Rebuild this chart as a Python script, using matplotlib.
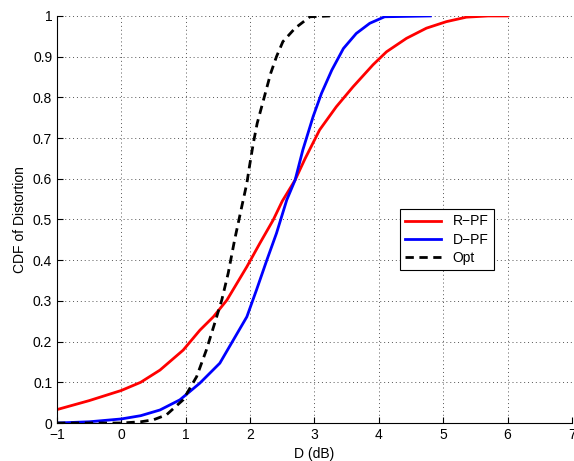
import numpy as np
import matplotlib
matplotlib.use('Agg')
import matplotlib.pyplot as plt

plt.rcParams['font.family'] = ['Liberation Sans', 'DejaVu Sans']

# R-PF curve
rpf_x = [-1.0, -0.5, 0.0, 0.3, 0.6, 0.96, 1.22, 1.43, 1.64, 1.95, 2.15, 2.36, 2.5, 2.7,
         2.85, 3.08, 3.34, 3.6, 3.91, 4.12, 4.43, 4.74, 5.05, 5.36, 5.7, 6.0]
rpf_y = [0.033, 0.055, 0.08, 0.1, 0.13, 0.179, 0.228, 0.261, 0.302, 0.384, 0.441, 0.499, 0.545, 0.597,
         0.648, 0.72, 0.777, 0.826, 0.88, 0.912, 0.945, 0.97, 0.986, 0.997, 1.0, 1.0]

# D-PF curve
dpf_x = [-1.0, -0.5, 0.0, 0.3, 0.6, 0.91, 1.22, 1.53, 1.74, 1.95, 2.1, 2.26, 2.41, 2.57, 2.7,
         2.82, 2.98, 3.11, 3.27, 3.45, 3.65, 3.86, 4.09, 4.8]
dpf_y = [0.0, 0.003, 0.01, 0.018, 0.032, 0.057, 0.098, 0.147, 0.204, 0.261, 0.327, 0.4, 0.466, 0.548, 0.597,
         0.671, 0.753, 0.81, 0.867, 0.92, 0.957, 0.982, 0.998, 1.0]

# Opt curve
opt_x = [-1.0, 0.0, 0.3, 0.5, 0.7, 0.96, 1.17, 1.32, 1.45, 1.56, 1.66, 1.76, 1.87, 1.95, 1.99,
         2.05, 2.11, 2.18, 2.25, 2.32, 2.41, 2.51, 2.7, 2.93, 3.24]
opt_y = [0.0, 0.0, 0.003, 0.008, 0.02, 0.057, 0.114, 0.179, 0.245, 0.302, 0.368, 0.45, 0.531, 0.589, 0.63,
         0.687, 0.736, 0.777, 0.818, 0.859, 0.9, 0.937, 0.97, 0.998, 1.0]

xticks = [-1, 0, 1, 2, 3, 4, 5, 6, 7]
yticks = [0, 0.1, 0.2, 0.3, 0.4, 0.5, 0.6, 0.7, 0.8, 0.9, 1]
ytick_labels = ['0', '0.1', '0.2', '0.3', '0.4', '0.5', '0.6', '0.7', '0.8', '0.9', '1']

fig = plt.figure(figsize=(5.74, 4.61), dpi=100)
ax = fig.add_axes([0.0993, 0.0824, 0.897, 0.883])

ax.plot(rpf_x, rpf_y, color='#ff0000', lw=2, label='R\u2212PF')
ax.plot(dpf_x, dpf_y, color='#0000ff', lw=2, label='D\u2212PF')
ax.plot(opt_x, opt_y, color='black', lw=2, ls=(0, (3, 2)), label='Opt')

ax.set_xlim(-1, 7)
ax.set_ylim(0, 1)
ax.set_xticks(xticks)
ax.set_yticks(yticks)
ax.set_yticklabels(ytick_labels)
ax.tick_params(direction='in', length=4, labelsize=10, width=0.8)
ax.grid(True, ls=(0, (1, 3)), color='#555555', lw=0.7)
ax.spines['top'].set_visible(False)
ax.spines['right'].set_visible(False)

ax.set_xlabel('D (dB)', fontsize=10)
ax.set_ylabel('CDF of Distortion', fontsize=10)

leg = ax.legend(loc='upper left', bbox_to_anchor=(0.652, 0.543), fontsize=10,
                fancybox=False, edgecolor='black', framealpha=1,
                handlelength=2.6, borderpad=0.4, labelspacing=0.3)
leg.get_frame().set_linewidth(0.8)

fig.savefig('out.png', dpi=100)
